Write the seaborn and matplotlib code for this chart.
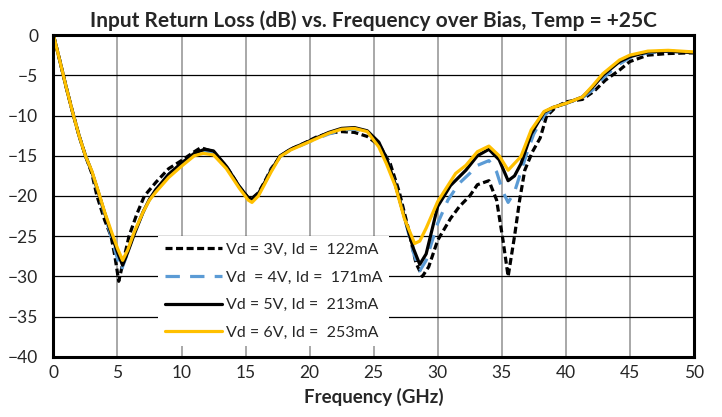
import numpy as np
import pandas as pd
import seaborn as sns
from matplotlib import pyplot as plt


# --- values ---
LABEL_3V = "Vd = 3V, Id =  122mA"
LABEL_4V = "Vd  = 4V, Id =  171mA"
LABEL_5V = "Vd = 5V, Id =  213mA"
LABEL_6V = "Vd = 6V, Id =  253mA"

freq_3v = [0, 0.5, 1, 1.5, 2, 2.5, 3, 3.4, 4, 4.5, 4.8, 5.1, 5.4, 5.9, 6.5, 7.1, 8, 9, 10, 11, 11.5,
           12.3, 13.5, 14.5, 15.2, 15.5, 16, 16.5, 17, 17.7, 18.5, 19.5, 20.5, 21.5, 22.5, 23.5, 24.5,
           25.5, 26.3, 27, 27.7, 28.3, 28.8, 29.3, 30, 31, 31.7, 32.5, 33.1, 34, 34.6, 35.1, 35.5,
           36, 36.4, 36.8, 37.4, 38, 38.5, 39.2, 40, 41.3, 42.2, 43.1, 44.2, 45, 46.4, 48, 50]
rl_3v = [0, -3.2, -6.5, -9.6, -12.5, -15.0, -17.2, -20.0, -23.0, -25.0, -27.5, -30.6, -28.5, -25.0,
         -22.3, -20.0, -18.3, -16.6, -15.6, -14.5, -14.0, -14.4, -16.3, -18.8, -20.2, -20.3, -19.6,
         -18.2, -16.6, -15.1, -14.2, -13.5, -12.7, -12.2, -12.0, -12.1, -12.6, -13.8, -16.0, -19.5,
         -24.0, -28.3, -30.0, -28.8, -25.5, -22.8, -21.3, -20.0, -18.6, -18.1, -20.5, -25.5, -30.0,
         -25.0, -20.5, -16.8, -14.5, -12.8, -10.1, -9.0, -8.3, -8.0, -7.0, -5.6, -4.35, -3.3, -2.5,
         -2.3, -2.2]

freq_4v = [0, 0.5, 1, 1.5, 2, 2.5, 3, 3.5, 4, 4.5, 5, 5.3, 5.7, 6.2, 7, 7.5, 8, 9, 10, 11, 11.8,
           12.5, 13.5, 14.5, 15.2, 15.5, 16, 16.5, 17, 17.7, 18.5, 19.5, 20.5, 21.5, 22.5, 23.5, 24.5,
           25.4, 26, 26.7, 27.4, 28.1, 28.6, 29.1, 30, 30.8, 31.7, 32.5, 33.1, 34, 34.6, 35.1, 35.5,
           36, 36.5, 37, 37.5, 38.3, 39, 40, 41.3, 42.2, 43, 44.2, 45, 46.4, 48, 50]
rl_4v = [0, -3.2, -6.5, -9.6, -12.5, -15.0, -17.0, -19.6, -22.3, -25.0, -27.8, -29.2, -27.5, -25.0,
         -22.0, -20.5, -19.2, -17.3, -16.0, -14.8, -14.4, -14.6, -16.4, -18.8, -20.3, -20.5, -19.8,
         -18.4, -16.8, -15.1, -14.3, -13.6, -12.9, -12.3, -11.8, -11.7, -12.0, -13.4, -15.3, -18.6,
         -22.6, -27.0, -29.3, -28.0, -23.4, -20.5, -18.4, -17.2, -16.2, -15.6, -17.0, -19.5, -20.8,
         -19.5, -17.0, -14.5, -12.3, -10.0, -9.1, -8.5, -7.8, -6.7, -5.2, -3.6, -2.8, -2.2, -2.0,
         -2.2]

freq_5v = [0, 0.5, 1, 1.5, 2, 2.5, 3, 3.5, 4, 4.5, 5, 5.4, 5.8, 6.3, 7, 7.5, 8, 9, 10, 11, 11.8,
           12.5, 13.5, 14.5, 15.2, 15.5, 16, 16.5, 17, 17.7, 18.5, 19.5, 20.5, 21.5, 22.5, 23.5, 24.5,
           25.4, 26, 26.7, 27.4, 28.1, 28.6, 29.1, 30, 31, 32.2, 33.1, 34, 34.8, 35.5, 36, 36.5, 37.3,
           38.3, 39, 40, 41.3, 42.2, 42.9, 44.2, 45, 46.4, 48, 50]
rl_5v = [0, -3.2, -6.5, -9.6, -12.5, -15.0, -17.0, -19.5, -22.1, -24.6, -27.0, -28.6, -27.0, -24.8,
         -22.0, -20.4, -19.2, -17.3, -15.9, -14.7, -14.2, -14.4, -16.3, -18.8, -20.2, -20.4, -19.7,
         -18.3, -16.8, -15.0, -14.2, -13.5, -12.8, -12.1, -11.6, -11.5, -11.9, -13.3, -15.3, -18.6,
         -22.6, -26.5, -28.5, -27.2, -21.3, -18.7, -16.8, -15.0, -14.2, -15.5, -18.1, -17.5, -16.0,
         -12.3, -9.6, -9.0, -8.5, -7.7, -6.3, -5.0, -3.3, -2.7, -2.1, -2.0, -2.2]

freq_6v = [0, 0.5, 1, 1.5, 2, 2.5, 3, 3.5, 4, 4.5, 5, 5.4, 5.8, 6.3, 7, 7.5, 8, 9, 10, 11, 11.7,
           12.5, 13.5, 14.5, 15.2, 15.5, 16, 16.5, 17, 17.7, 18.5, 19.5, 20.5, 21.5, 22.5, 23.5, 24.5,
           25.4, 26, 26.7, 27.4, 28.2, 28.6, 29.1, 30, 31.4, 32.2, 33.1, 34, 34.8, 35.5, 36.5, 37.3,
           38.3, 39, 40, 41.3, 42.1, 42.9, 44.2, 45, 46.4, 48, 50]
rl_6v = [0, -3.2, -6.5, -9.6, -12.5, -15.0, -16.9, -19.4, -22.0, -24.3, -26.5, -28.0, -26.7, -24.5,
         -22.0, -20.5, -19.5, -17.7, -16.3, -15.0, -14.7, -14.9, -16.6, -19.0, -20.5, -20.8, -20.0,
         -18.5, -17.0, -15.1, -14.3, -13.6, -12.9, -12.2, -11.7, -11.6, -12.0, -13.9, -16.0, -18.8,
         -22.8, -25.9, -25.6, -24.0, -20.7, -17.2, -16.2, -14.5, -13.8, -15.0, -16.8, -15.1, -11.8,
         -9.5, -9.0, -8.5, -7.7, -6.3, -4.8, -3.1, -2.5, -2.0, -1.9, -2.1]

x_ticks = list(range(0, 55, 5))
y_ticks = list(range(-40, 5, 5))

COLORS = {LABEL_3V: "black", LABEL_4V: "#5B9BD5", LABEL_5V: "black", LABEL_6V: "#FFC000"}
DASHES = {LABEL_3V: (2.2, 1.1), LABEL_4V: (4.5, 3.2), LABEL_5V: "", LABEL_6V: ""}


def build_frame():
    parts = []
    for label, f, v in [(LABEL_3V, freq_3v, rl_3v), (LABEL_4V, freq_4v, rl_4v),
                        (LABEL_5V, freq_5v, rl_5v), (LABEL_6V, freq_6v, rl_6v)]:
        parts.append(pd.DataFrame({"freq": f, "rl": v, "bias": label}))
    return pd.concat(parts, ignore_index=True)


def main():
    sns.set_style("white")
    plt.rcParams["font.family"] = ["Lato", "DejaVu Sans"]

    fig = plt.figure(figsize=(7.22, 4.17), dpi=100)
    ax = fig.add_axes([0.074, 0.144, 0.887, 0.772])

    df = build_frame()
    sns.lineplot(data=df, x="freq", y="rl", hue="bias", style="bias",
                 palette=COLORS, dashes=DASHES, linewidth=2.3, ax=ax,
                 estimator=None, sort=False)

    ax.set_xlim(0, 50)
    ax.set_ylim(-40, 0)
    ax.set_xticks(x_ticks)
    ax.set_yticks(y_ticks)
    ax.tick_params(length=0, labelsize=12.5)
    ax.tick_params(axis="y", pad=11)
    ax.tick_params(axis="x", pad=6)

    # excel style grid: grey verticals, black horizontals
    ax.set_axisbelow(True)
    ax.xaxis.grid(True, color="#9a9a9a", linewidth=1.2)
    ax.yaxis.grid(True, color="black", linewidth=0.9)
    for sp in ax.spines.values():
        sp.set_visible(True)
        sp.set_color("black")
        sp.set_linewidth(2.2)

    ax.set_title("Input Return Loss (dB) vs. Frequency over Bias, Temp = +25C",
                 fontsize=15, fontweight="bold", pad=6)
    ax.set_xlabel("Frequency (GHz)", fontsize=13.5, fontweight="bold", labelpad=5)
    ax.set_ylabel(None)

    handles, labels = ax.get_legend_handles_labels()
    leg = ax.legend(handles, labels, loc="upper left", bbox_to_anchor=(0.164, 0.375),
                    fontsize=11.5, handlelength=3.6, labelspacing=0.85, frameon=True,
                    facecolor="white", edgecolor="none", framealpha=1, borderaxespad=0,
                    handletextpad=0.25)
    leg.get_frame().set_boxstyle("square", pad=0)

    plt.savefig("out.png", dpi=100)


if __name__ == "__main__":
    main()
